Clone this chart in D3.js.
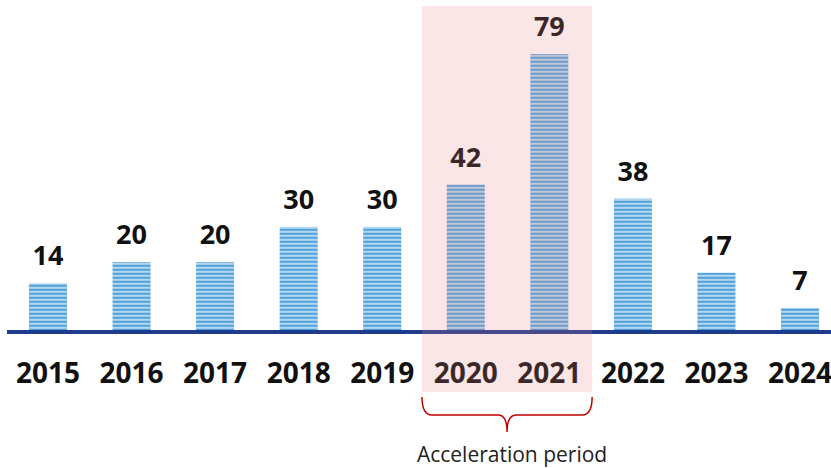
<!DOCTYPE html>
<html>
<head>
<meta charset="utf-8">
<script src="https://cdn.jsdelivr.net/npm/d3@7"></script>
<style>
  body { margin: 0; background: #fff; }
  svg { display: block; }
</style>
</head>
<body>
<div id="chart"></div>
<script>
// data
var years = ['2015', '2016', '2017', '2018', '2019', '2020', '2021', '2022', '2023', '2024']
var counts = [14, 20, 20, 30, 30, 42, 79, 38, 17, 7]
var highlightYears = ['2020', '2021']
var highlightLabel = 'Acceleration period'

var width = 831
var height = 468
var baseY = 332.7

var svg = d3.select('#chart').append('svg')
  .attr('width', width)
  .attr('height', height)

// striped fill for the bars
var defs = svg.append('defs')
var pat = defs.append('pattern')
  .attr('id', 'stripes')
  .attr('patternUnits', 'userSpaceOnUse')
  .attr('width', 8)
  .attr('height', 4)
  .attr('y', baseY)
pat.append('rect').attr('width', 8).attr('height', 4).attr('fill', '#c3e0f5')
pat.append('rect').attr('width', 8).attr('height', 2.2).attr('fill', '#4fa0da')

var x = d3.scaleBand()
  .domain(years)
  .range([6.2, 841.8])
  .paddingInner(0.545)
  .paddingOuter(0.2725)

var y = d3.scaleLinear()
  .domain([0, d3.max(counts)])
  .range([baseY, 54])

var data = years.map(function (d, i) { return { year: d, value: counts[i] } })

// bars
svg.append('g').selectAll('rect')
  .data(data)
  .enter()
  .append('rect')
  .attr('x', function (d) { return x(d.year) })
  .attr('y', function (d) { return y(d.value) })
  .attr('width', x.bandwidth())
  .attr('height', function (d) { return baseY - y(d.value) })
  .attr('fill', 'url(#stripes)')

// value labels
svg.append('g').selectAll('text')
  .data(data)
  .enter()
  .append('text')
  .attr('x', function (d) { return x(d.year) + x.bandwidth() / 2 })
  .attr('y', function (d) { return y(d.value) - 18 })
  .attr('text-anchor', 'middle')
  .attr('style', 'font: bold 27px "Open Sans"')
  .attr('fill', '#111')
  .text(function (d) { return d.value })

// axis line
svg.append('line')
  .attr('x1', 7)
  .attr('x2', width)
  .attr('y1', 332)
  .attr('y2', 332)
  .attr('stroke', '#1f3c8c')
  .attr('stroke-width', 4)

// year labels
var xAxis = d3.axisBottom(x).tickSize(0).tickPadding(0)
var axisG = svg.append('g')
  .attr('transform', 'translate(0,' + 383 + ')')
  .call(xAxis)
axisG.select('.domain').remove()
axisG.selectAll('text')
  .attr('dy', 0)
  .attr('fill', '#111')
  .attr('style', 'font: bold 28px "Open Sans"')

// highlighted period
var gap = x.step() - x.bandwidth()
var hx0 = x(highlightYears[0]) - gap / 2 - 2
var hx1 = x(highlightYears[1]) + x.bandwidth() + gap / 2 + 1
svg.append('rect')
  .attr('x', hx0)
  .attr('y', 6)
  .attr('width', hx1 - hx0)
  .attr('height', 386)
  .attr('fill', 'rgb(228,130,130)')
  .attr('fill-opacity', 0.2)

// brace
var mid = (hx0 + hx1) / 2
var bTop = 397
var bMid = 415
var bTip = 432
var brace = 'M' + hx0 + ',' + bTop +
  ' Q' + hx0 + ',' + bMid + ' ' + (hx0 + 10) + ',' + bMid +
  ' L' + (mid - 9) + ',' + bMid +
  ' Q' + mid + ',' + bMid + ' ' + mid + ',' + bTip +
  ' Q' + mid + ',' + bMid + ' ' + (mid + 9) + ',' + bMid +
  ' L' + (hx1 - 10) + ',' + bMid +
  ' Q' + hx1 + ',' + bMid + ' ' + hx1 + ',' + bTop
svg.append('path')
  .attr('d', brace)
  .attr('fill', 'none')
  .attr('stroke', '#c00000')
  .attr('stroke-width', 1.5)

svg.append('text')
  .attr('x', mid + 5)
  .attr('y', 462)
  .attr('text-anchor', 'middle')
  .attr('style', 'font: 21px "Open Sans"')
  .attr('fill', '#222')
  .text(highlightLabel)
</script>
</body>
</html>
